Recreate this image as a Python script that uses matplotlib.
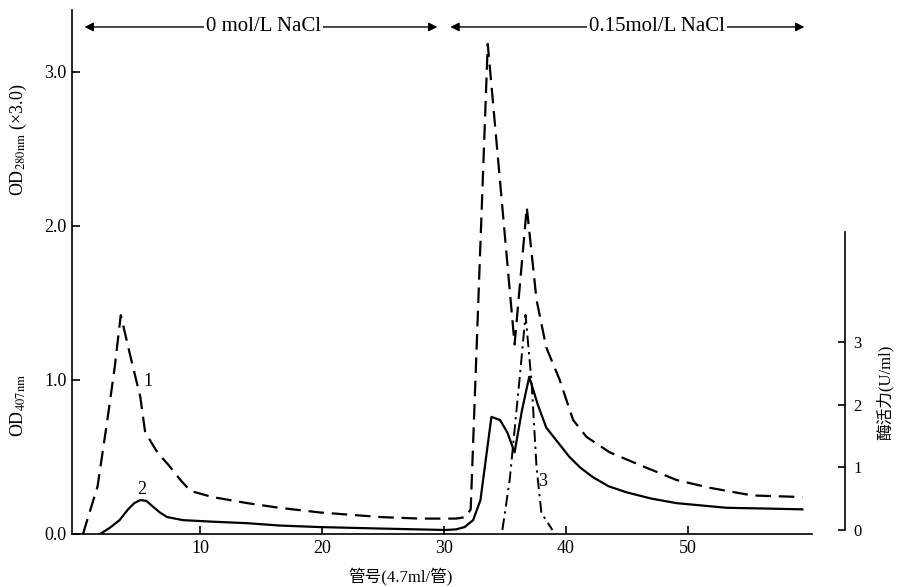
import matplotlib
matplotlib.use("Agg")
from matplotlib import pyplot as plt

plt.rcParams['font.family'] = ['Liberation Serif', 'Noto Sans CJK SC', 'DejaVu Sans']
plt.rcParams['mathtext.fontset'] = 'stix'

# curve 1: OD280 (dashed)
c1_x = [0.4, 1.6, 2.4, 3.0, 3.5, 4.3, 5.1, 5.5, 6.5, 7.5, 8.4, 9.2, 11.0, 13.9, 16.5, 19.8,
        24.8, 28.0, 31.0, 31.8, 32.2, 33.6, 35.8, 36.8, 37.6, 38.4, 39.5, 40.6, 41.7, 43.6,
        46.3, 49.1, 51.8, 55.3, 59.4]
c1_y = [0.0, 0.31, 0.74, 1.08, 1.42, 1.15, 0.89, 0.66, 0.53, 0.44, 0.35, 0.28, 0.24, 0.20, 0.17, 0.14,
        0.11, 0.10, 0.10, 0.11, 0.16, 3.18, 1.23, 2.12, 1.52, 1.21, 1.0, 0.74, 0.63, 0.53,
        0.44, 0.35, 0.30, 0.25, 0.24]

# curve 2: OD407 (solid)
c2_x = [1.8, 2.6, 3.4, 4.1, 4.6, 5.1, 5.6, 6.1, 6.7, 7.3, 8.6, 11.0, 13.9, 16.5, 19.8, 25.0,
        30.1, 31.0, 31.7, 32.4, 33.0, 33.9, 34.6, 35.2, 35.8, 36.4, 37.0, 37.7, 38.4, 39.5,
        40.3, 41.2, 42.2, 43.5, 45.0, 47.0, 49.1, 53.2, 56.5, 59.4]
c2_y = [0.0, 0.04, 0.09, 0.16, 0.20, 0.22, 0.215, 0.18, 0.14, 0.11, 0.09, 0.08, 0.07, 0.055, 0.045, 0.035,
        0.026, 0.03, 0.045, 0.09, 0.22, 0.76, 0.74, 0.66, 0.53, 0.80, 1.02, 0.84, 0.69, 0.58,
        0.50, 0.43, 0.37, 0.31, 0.27, 0.23, 0.20, 0.17, 0.165, 0.16]

# curve 3: enzyme activity U/ml (dash-dot, right axis)
c3_x = [34.8, 35.4, 36.2, 36.7, 37.2, 37.6, 38.0, 38.9]
c3_y = [0.0, 0.80, 2.39, 3.43, 2.34, 1.0, 0.27, 0.0]

x_ticks = [10, 20, 30, 40, 50]
left_ticks = [0, 1, 2, 3]
left_labels = ['0.0', '1.0', '2.0', '3.0']
right_ticks = [0, 1, 2, 3]

fig = plt.figure(figsize=(8.97, 5.87), dpi=100)
ax = fig.add_axes([72 / 897, 53 / 587, 773 / 897, 524 / 587])
ax.set_xlim(-0.5, 62.9)
ax.set_ylim(0, 3.4)

ax.plot(c1_x, c1_y, color='black', lw=1.6, dashes=(7, 3.5))
ax.plot(c2_x, c2_y, color='black', lw=1.6)

ax2 = ax.twinx()
ax2.set_ylim(-0.064, 8.29)
ax2.plot(c3_x, c3_y, color='black', lw=1.4, dashes=(6, 2.5, 1.2, 2.5))

for s in ['top', 'right']:
    ax.spines[s].set_visible(False)
for s in ['top', 'left', 'bottom']:
    ax2.spines[s].set_visible(False)
ax.spines['bottom'].set_bounds(-0.5, 60.2)
ax2.spines['right'].set_bounds(0, 4.75)
for sp in [ax.spines['left'], ax.spines['bottom'], ax2.spines['right']]:
    sp.set_linewidth(1.2)

ax.set_xticks(x_ticks)
ax.set_xticklabels([str(t) for t in x_ticks], fontsize=13)
ax.set_yticks(left_ticks)
ax.set_yticklabels(left_labels, fontsize=13)
ax.tick_params(direction='in', length=6, width=1.2, pad=4)
ax2.set_yticks(right_ticks)
ax2.set_yticklabels([str(t) for t in right_ticks], fontsize=12)
ax2.tick_params(direction='in', length=5, width=1.2, pad=6)

# NaCl step annotations
yt = 3.29
ax.annotate('', xy=(0.3, yt), xytext=(29.7, yt),
            arrowprops=dict(arrowstyle='<|-|>', color='black', lw=1.0, mutation_scale=13))
ax.text(15.2, yt, '0 mol/L NaCl', ha='center', va='center', fontsize=15,
        bbox=dict(facecolor='white', edgecolor='none', pad=1.5))
ax.annotate('', xy=(30.3, yt), xytext=(59.8, yt),
            arrowprops=dict(arrowstyle='<|-|>', color='black', lw=1.0, mutation_scale=13))
ax.text(47.5, yt, '0.15mol/L NaCl', ha='center', va='center', fontsize=15,
        bbox=dict(facecolor='white', edgecolor='none', pad=1.5))

# curve numbers
ax.text(5.7, 0.99, '1', ha='center', va='center', fontsize=13)
ax.text(5.2, 0.29, '2', ha='center', va='center', fontsize=13)
ax.text(38.1, 0.34, '3', ha='center', va='center', fontsize=13)

fig.text(18 / 897, 1 - 140 / 587, 'OD$_{\\mathrm{280nm}}$ (×3.0)', rotation=90,
         ha='center', va='center', fontsize=13)
fig.text(18 / 897, 1 - 405 / 587, 'OD$_{\\mathrm{407nm}}$', rotation=90,
         ha='center', va='center', fontsize=13)
fig.text(885 / 897, 1 - 392 / 587, '酶活力(U/ml)', rotation=90,
         ha='center', va='center', fontsize=12)
fig.text(400 / 897, 1 - 576 / 587, '管号(4.7ml/管)', ha='center', va='center', fontsize=12)

fig.savefig('out.png', dpi=100)
